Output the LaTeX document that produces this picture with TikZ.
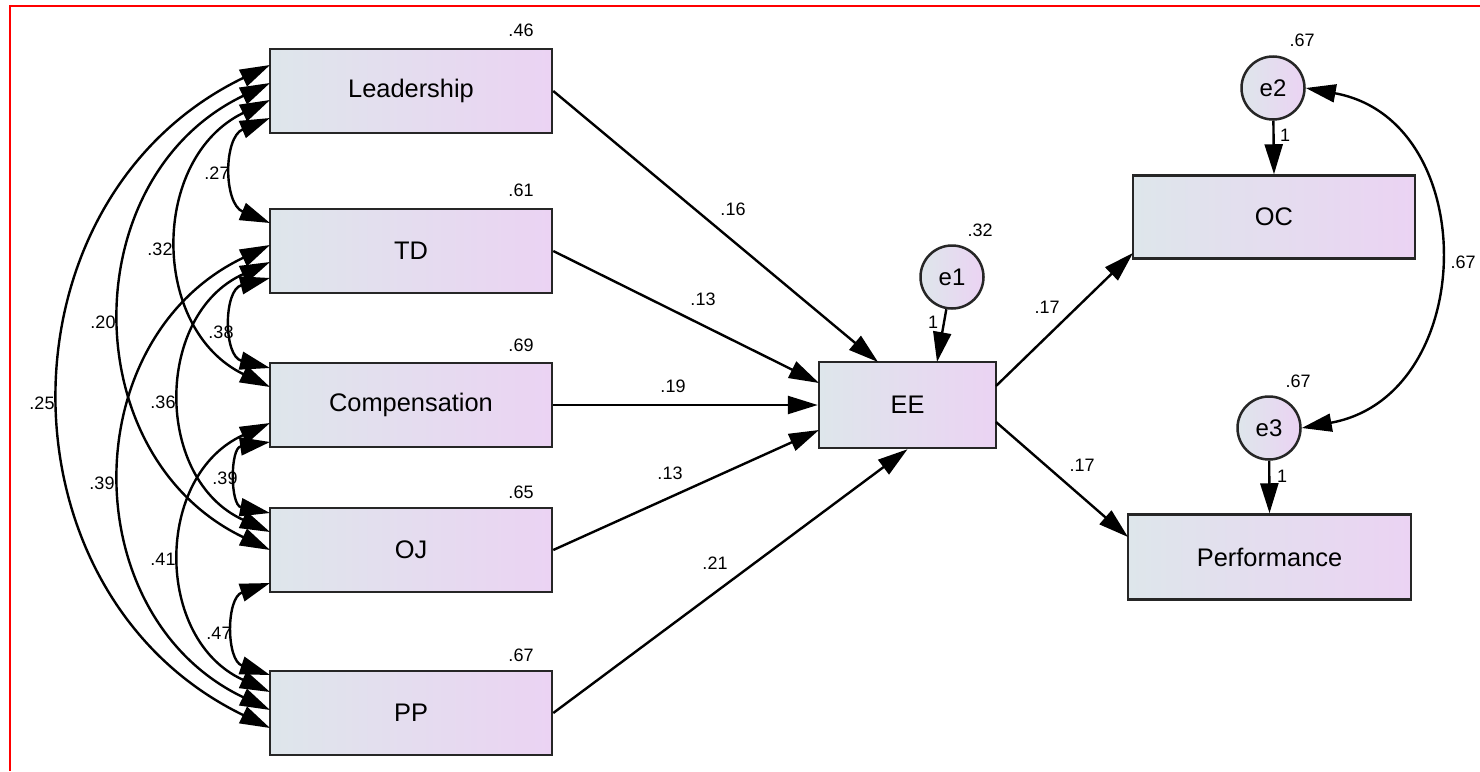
\documentclass[tikz,border=0pt]{standalone}
\usepackage{fontspec}
\setmainfont{Liberation Sans}
\usetikzlibrary{arrows.meta}
\definecolor{boxL}{HTML}{DEE6EB}
\definecolor{boxR}{HTML}{EBD3F3}
\begin{document}
\begin{tikzpicture}[x=1pt,y=-1pt, line width=2.4pt,
  >={Triangle[length=30pt,width=18pt]},
  var/.style={draw=black!85, line width=2.5pt, left color=boxL, right color=boxR,
    minimum width=282pt, minimum height=84pt, inner sep=0pt,
    font=\fontsize{25.4}{30}\selectfont},
  err/.style={circle, draw=black!85, line width=2.5pt, left color=boxL, right color=boxR,
    minimum size=63pt, inner sep=0pt, font=\fontsize{24}{28}\selectfont},
  num/.style={font=\fontsize{18}{21}\selectfont, inner sep=0pt}]
\useasboundingbox (0,0) rectangle (1480,771);
\fill[white] (0,0) rectangle (1480,771);
\draw[red, line width=2.3pt] (10,771) -- (10,6.3) -- (1480,6.3);

% observed variables
\node[var] (lead) at (411,91) {Leadership};
\node[var] (td) at (411,251) {TD};
\node[var] (comp) at (411,405) {Compensation};
\node[var] (oj) at (411,550) {OJ};
\node[var] (pp) at (411,713) {PP};
\node[var, minimum width=177pt, minimum height=86pt] (ee) at (907.5,405) {EE};
\node[var, minimum height=83pt] (oc) at (1274,217) {OC};
\node[var, minimum width=283pt, minimum height=85pt] (perf) at (1269.5,557) {Performance};

% error terms
\node[err] (e1) at (952,277) {e1};
\node[err] (e2) at (1273,88) {e2};
\node[err] (e3) at (1269,428) {e3};

% attachment points on the left edges
\coordinate (L1) at (270,65);  \coordinate (L2) at (270,83);
\coordinate (L3) at (270,100); \coordinate (L4) at (270,118);
\coordinate (T1) at (270,223); \coordinate (T2) at (270,245);
\coordinate (T3) at (270,262); \coordinate (T4) at (270,278);
\coordinate (C1) at (270,368); \coordinate (C2) at (270,387);
\coordinate (C3) at (270,423); \coordinate (C4) at (270,442);
\coordinate (O1) at (270,513); \coordinate (O2) at (270,532);
\coordinate (O3) at (270,550); \coordinate (O4) at (270,583);
\coordinate (P1) at (270,675); \coordinate (P2) at (270,692);
\coordinate (P3) at (270,710); \coordinate (P4) at (270,728);

% covariances
\draw[<->] (L4) .. controls (223.3,137.4) and (223.3,203.6) .. (T1);
\draw[<->] (T4) .. controls (223.3,289.8) and (223.3,356.2) .. (C1);
\draw[<->] (C4) .. controls (230,447.9) and (230,505.1) .. (O1);
\draw[<->] (O4) .. controls (226,597.8) and (226,660.2) .. (P1);
\draw[<->] (L3) .. controls (150,158) and (150,329) .. (C2);
\draw[<->] (T3) .. controls (154,314.6) and (154,479.4) .. (O2);
\draw[<->] (C3) .. controls (154,475.4) and (154,639.6) .. (P2);
\draw[<->] (L2) .. controls (74,176.9) and (74,456.1) .. (O3);
\draw[<->] (T2) .. controls (74,338.5) and (74,616.5) .. (P3);
\draw[<->] (L1) .. controls (-7.3,199) and (-7.3,594) .. (P4);

\node[num] (c27) at (217,173) {.27};
\node[num] (c32) at (160,249) {.32};
\node[num] (c38) at (221,332) {.38};
\node[num] (c20) at (103,322) {.20};
\node[num] (c36) at (163,402) {.36};
\node[num] (c25) at (42,403) {.25};
\node[num] (c39a) at (102,483) {.39};
\node[num] (c39b) at (225,478) {.39};
\node[num] (c41) at (163,559) {.41};
\node[num] (c47) at (219,633) {.47};

% paths into EE
\coordinate (eeA) at (878,362);
\coordinate (eeB) at (819,383);
\coordinate (eeC) at (819,430);
\coordinate (eeT) at (937,362);
\draw[->] (lead.east) -- (eeA);
\draw[->] (td.east) -- (eeB);
\draw[->] (comp.east) -- (ee.west);
\draw[->] (oj.east) -- (eeC);
\draw[->] (pp.east) -- (ee.south);
\draw[->] (e1) -- (eeT);

% paths out of EE
\coordinate (eeR1) at (996,386);
\coordinate (eeR2) at (996,422);
\coordinate (ocL) at (1133,253);
\coordinate (pfL) at (1128,537);
\draw[->] (eeR1) -- (ocL);
\draw[->] (eeR2) -- (pfL);
\draw[->] (e2) -- (oc.north);
\draw[->] (e3) -- (perf.north);
\draw[<->] (e2.east) .. controls (1483,120) and (1479,396) .. (e3.east);

% estimates
\node[num] (v46) at (521,30) {.46};
\node[num] (v61) at (521,190) {.61};
\node[num] (v69) at (521,345) {.69};
\node[num] (v65) at (521,492) {.65};
\node[num] (v67) at (521,655) {.67};
\node[num] (v32) at (980,230) {.32};
\node[num] (ve2) at (1302,40) {.67};
\node[num] (ve3) at (1298,381) {.67};
\node[num] (cov) at (1463,262) {.67};
\node[num] (p16) at (733,209) {.16};
\node[num] (p13a) at (703,299) {.13};
\node[num] (p19) at (673,386) {.19};
\node[num] (p13b) at (670,473) {.13};
\node[num] (p21) at (715,563) {.21};
\node[num] (p17a) at (1047,307) {.17};
\node[num] (p17b) at (1082,465) {.17};
\node[num] (one1) at (933,322) {1};
\node[num] (one2) at (1285,135) {1};
\node[num] (one3) at (1282,476) {1};
\end{tikzpicture}
\end{document}
